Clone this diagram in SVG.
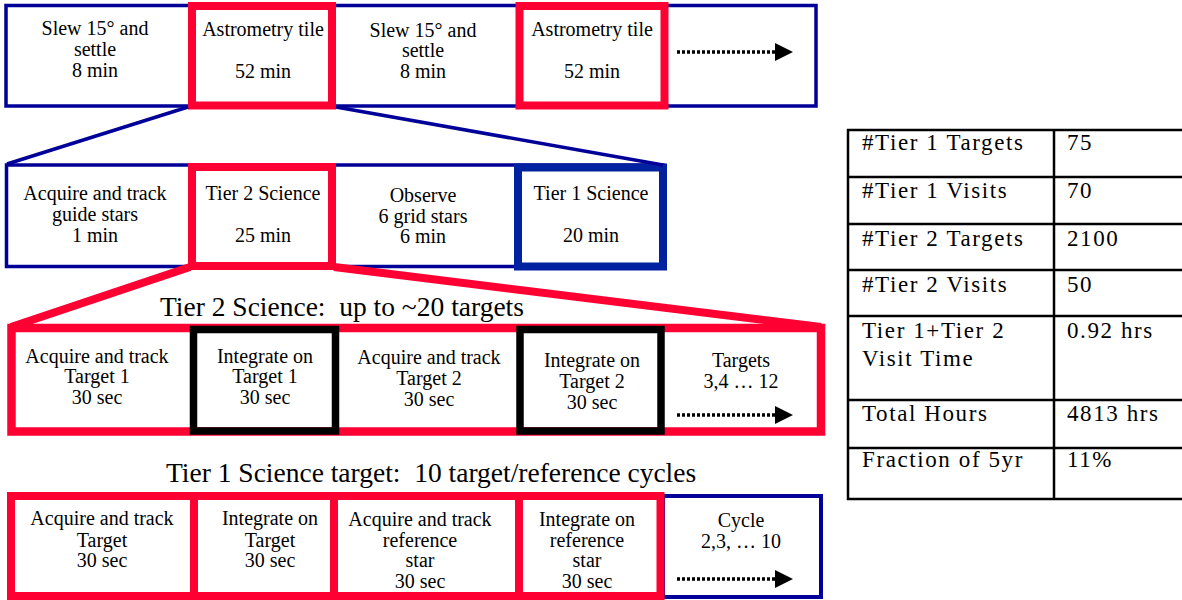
<svg xmlns="http://www.w3.org/2000/svg" width="1182" height="600" viewBox="0 0 1182 600">
<style>
.t{font-family:"Liberation Serif","Times New Roman",serif;font-size:20px;fill:#000;text-anchor:middle}
.title{font-family:"Liberation Serif","Times New Roman",serif;font-size:27.5px;fill:#000}
.nav{fill:none;stroke:#000099;stroke-width:3.5}
.red{fill:none;stroke:#ff0033;stroke-width:8}
.blk{fill:none;stroke:#000;stroke-width:7.5}
.blu{fill:none;stroke:#0022a0;stroke-width:8}
.zl{stroke:#000099;stroke-width:3.5;fill:none}
.zr{stroke:#ff0033;stroke-width:8;fill:none}
.dot{stroke:#000;stroke-width:3.5;stroke-dasharray:3 2;fill:none}
.grid{stroke:#000;stroke-width:2.5;fill:none}
</style>
<defs>
<marker id="ah" markerWidth="18" markerHeight="18" viewBox="0 0 18 18" refX="0" refY="9" orient="auto" markerUnits="userSpaceOnUse">
<path d="M0,0 L18,9 L0,18 Z" fill="#000"/>
</marker>
</defs>
<rect width="1182" height="600" fill="#fff"/>

<!-- Row 1 -->
<g id="row1-frame"><rect class="nav" x="6" y="5.5" width="810" height="100.5"/></g>
<g id="r1-slew1"><text class="t" x="95"><tspan x="95" y="35">Slew 15° and</tspan><tspan x="95" y="56">settle</tspan><tspan x="95" y="77">8 min</tspan></text></g>
<g id="r1-astro1"><rect class="red" x="192" y="6" width="140" height="99.5"/><text class="t"><tspan x="263" y="36">Astrometry tile</tspan><tspan x="263" y="78">52 min</tspan></text></g>
<g id="r1-slew2"><text class="t"><tspan x="423" y="37">Slew 15° and</tspan><tspan x="423" y="57">settle</tspan><tspan x="423" y="78">8 min</tspan></text></g>
<g id="r1-astro2"><rect class="red" x="519.5" y="6" width="145" height="99.5"/><text class="t"><tspan x="592" y="36">Astrometry tile</tspan><tspan x="592" y="78">52 min</tspan></text></g>

<!-- Row 2 -->
<g id="row2-frame"><rect class="nav" x="6.5" y="165" width="656.5" height="101.5"/></g>
<g id="r2-acq"><text class="t"><tspan x="95" y="200">Acquire and track</tspan><tspan x="95" y="221">guide stars</tspan><tspan x="95" y="242">1 min</tspan></text></g>
<g id="r2-tier2"><rect class="red" x="192" y="167" width="140" height="99"/><text class="t"><tspan x="263" y="200">Tier 2 Science</tspan><tspan x="263" y="242">25 min</tspan></text></g>
<g id="r2-observe"><text class="t"><tspan x="423" y="202">Observe</tspan><tspan x="423" y="223">6 grid stars</tspan><tspan x="423" y="243">6 min</tspan></text></g>
<g id="r2-tier1"><rect class="blu" x="518" y="167.5" width="145" height="99"/><text class="t"><tspan x="591" y="200">Tier 1 Science</tspan><tspan x="591" y="242">20 min</tspan></text></g>

<!-- Row 3 -->
<g id="row3-title"><text class="title" x="160" y="316" xml:space="preserve">Tier 2 Science:  up to ~20 targets</text></g>
<g id="row3-frame"><rect class="red" x="11.5" y="328" width="809.5" height="103.5" style="stroke-width:8.5"/></g>
<g id="r3-acq1"><text class="t"><tspan x="97" y="363">Acquire and track</tspan><tspan x="97" y="383">Target 1</tspan><tspan x="97" y="404">30 sec</tspan></text></g>
<g id="r3-int1"><rect class="blk" x="193.5" y="329.5" width="142" height="101.5"/><text class="t"><tspan x="265" y="363">Integrate on</tspan><tspan x="265" y="383">Target 1</tspan><tspan x="265" y="404">30 sec</tspan></text></g>
<g id="r3-acq2"><text class="t"><tspan x="429" y="364">Acquire and track</tspan><tspan x="429" y="385">Target 2</tspan><tspan x="429" y="406">30 sec</tspan></text></g>
<g id="r3-int2"><rect class="blk" x="520" y="329.5" width="141" height="101.5"/><text class="t"><tspan x="592" y="367">Integrate on</tspan><tspan x="592" y="388">Target 2</tspan><tspan x="592" y="409">30 sec</tspan></text></g>
<g id="r3-more"><text class="t"><tspan x="741" y="367">Targets</tspan><tspan x="741" y="388">3,4 … 12</tspan></text></g>

<!-- Row 4 -->
<g id="row4-title"><text class="title" x="166" y="482" xml:space="preserve">Tier 1 Science target:  10 target/reference cycles</text></g>
<g id="r4-cycle"><rect class="nav" x="663" y="496" width="158" height="101" style="stroke-width:4"/><text class="t"><tspan x="741" y="527">Cycle</tspan><tspan x="741" y="548">2,3, … 10</tspan></text></g>
<g id="r4-acqT"><rect class="red" x="11" y="496" width="183" height="100"/><text class="t"><tspan x="102" y="525">Acquire and track</tspan><tspan x="102" y="547">Target</tspan><tspan x="102" y="567">30 sec</tspan></text></g>
<g id="r4-intT"><rect class="red" x="194" y="496" width="140" height="100"/><text class="t"><tspan x="270" y="525">Integrate on</tspan><tspan x="270" y="547">Target</tspan><tspan x="270" y="567">30 sec</tspan></text></g>
<g id="r4-acqR"><rect class="red" x="334" y="496" width="185" height="100"/><text class="t"><tspan x="420" y="526">Acquire and track</tspan><tspan x="420" y="547">reference</tspan><tspan x="420" y="567">star</tspan><tspan x="420" y="588">30 sec</tspan></text></g>
<g id="r4-intR"><rect class="red" x="519" y="496" width="141.5" height="100"/><text class="t"><tspan x="587" y="526">Integrate on</tspan><tspan x="587" y="547">reference</tspan><tspan x="587" y="567">star</tspan><tspan x="587" y="588">30 sec</tspan></text></g>

<!-- Connectors -->
<g id="connectors">
<line class="zl" x1="188" y1="107" x2="7" y2="164"/>
<line class="zl" x1="336" y1="107" x2="663" y2="165"/>
<line class="zr" x1="190" y1="267" x2="11" y2="327"/>
<line class="zr" x1="334" y1="267" x2="821" y2="327"/>
<line class="dot" x1="677" y1="52" x2="775" y2="52" marker-end="url(#ah)"/>
<line class="dot" x1="677" y1="415" x2="775" y2="415" marker-end="url(#ah)"/>
<line class="dot" x1="677" y1="579" x2="775" y2="579" marker-end="url(#ah)"/>
</g>

<!-- Table -->
<g id="table">
<g class="grid">
<line x1="848" y1="129" x2="848" y2="500"/>
<line x1="1054" y1="130" x2="1054" y2="499"/>
<line x1="847" y1="130" x2="1182" y2="130"/>
<line x1="847" y1="177" x2="1182" y2="177"/>
<line x1="847" y1="224" x2="1182" y2="224"/>
<line x1="847" y1="270" x2="1182" y2="270"/>
<line x1="847" y1="316" x2="1182" y2="316"/>
<line x1="847" y1="400" x2="1182" y2="400"/>
<line x1="847" y1="448" x2="1182" y2="448"/>
<line x1="847" y1="499" x2="1182" y2="499"/>
</g>
<g font-family="Liberation Serif, serif" font-size="23" letter-spacing="1.6" fill="#000">
<text x="862" y="150">#Tier 1 Targets</text><text x="1067" y="150">75</text>
<text x="862" y="198">#Tier 1 Visits</text><text x="1067" y="198">70</text>
<text x="862" y="246">#Tier 2 Targets</text><text x="1067" y="246">2100</text>
<text x="862" y="292">#Tier 2 Visits</text><text x="1067" y="292">50</text>
<text x="862" y="338">Tier 1+Tier 2</text><text x="1067" y="338">0.92 hrs</text>
<text x="862" y="366">Visit Time</text>
<text x="862" y="421">Total Hours</text><text x="1067" y="421">4813 hrs</text>
<text x="862" y="467">Fraction of 5yr</text><text x="1067" y="467">11%</text>
</g>
</g>
</svg>
